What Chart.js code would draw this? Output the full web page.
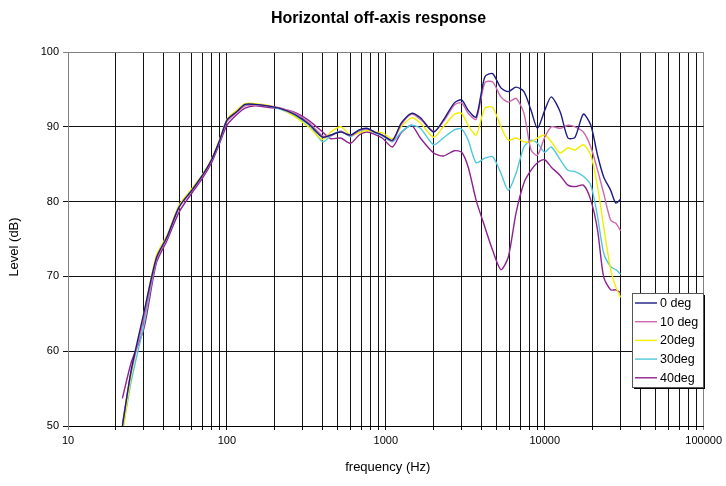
<!DOCTYPE html>
<html>
<head>
<meta charset="utf-8">
<script src="https://cdn.jsdelivr.net/npm/chart.js@4"></script>
<style>
  html, body { margin: 0; padding: 0; background: #fff; }
  #wrap { width: 726px; height: 486px; }
</style>
</head>
<body>
<div id="wrap"><canvas id="myChart" width="726" height="486"></canvas></div>
<script>
// frequencies (Hz) shared by all series
const freq = [22, 25, 30, 36, 42, 50, 60, 70, 80, 90, 100, 115, 130, 150, 180, 220, 270, 330, 400,
  450, 520, 600, 680, 760, 850, 950, 1100, 1250, 1450, 1650, 2000, 2300, 2700, 3000, 3300, 3700,
  4200, 4700, 5300, 5900, 6600, 7400, 8200, 9000, 10000, 11000, 12500, 14000, 15500, 17500,
  19500, 21500, 23500, 26000, 28000, 30000];

const deg0 = [50.0, 57.5, 65.1, 72.5, 75.3, 79.3, 81.5, 83.5, 85.6, 88.2, 90.9, 92.0, 93.0, 93.0, 92.8, 92.4, 91.6, 90.3, 88.6,
  88.9, 89.3, 88.9, 89.6, 89.8, 89.3, 88.9, 88.2, 90.5, 91.8, 91.2, 89.3, 90.9, 93.2, 93.6, 92.2, 91.3,
  96.7, 97.1, 95.2, 94.7, 95.3, 94.7, 92.2, 89.8, 92.2, 94.0, 92.0, 88.5, 88.6, 91.7,
  90.2, 86.2, 83.3, 81.5, 79.8, 80.3];
const deg10 = [50.3, 57.3, 64.3, 72.2, 75.2, 79.2, 81.4, 83.4, 85.5, 88.1, 90.7, 91.9, 92.8, 92.9, 92.8, 92.5, 91.8, 90.5, 88.8,
  88.8, 89.4, 88.8, 89.5, 89.7, 89.3, 88.9, 88.1, 90.3, 91.7, 91.0, 89.4, 90.7, 92.9, 93.2, 91.8, 91.0,
  95.9, 96.0, 94.0, 93.3, 93.8, 91.8, 86.9, 86.2, 88.6, 90.0, 89.8, 90.2, 90.0, 89.3,
  87.3, 84.2, 81.1, 77.5, 77.1, 76.1];
const deg20 = [48.8, 56.8, 65.0, 72.8, 75.5, 79.5, 81.7, 83.6, 85.7, 88.3, 91.0, 92.2, 93.1, 93.1, 92.9, 92.4, 91.3, 89.9, 88.3,
  89.3, 90.0, 88.9, 89.2, 89.5, 89.3, 89.2, 88.4, 90.0, 91.2, 90.5, 88.6, 90.0, 91.7, 91.8, 90.2, 88.9,
  92.5, 92.6, 90.0, 88.2, 88.5, 88.0, 88.0, 88.5, 88.9, 88.0, 86.5, 87.2, 86.9, 87.6,
  86.2, 82.0, 76.6, 70.9, 68.6, 67.2];
const deg30 = [49.2, 56.0, 63.5, 72.3, 75.2, 79.3, 81.5, 83.5, 85.6, 88.1, 90.8, 92.0, 92.9, 93.0, 92.8, 92.3, 91.4, 90.2, 88.0,
  88.8, 89.4, 88.7, 89.4, 89.6, 89.2, 88.8, 88.0, 89.3, 90.2, 89.8, 87.6, 88.5, 89.6, 89.7, 88.2, 85.2,
  85.8, 86.0, 83.8, 81.5, 83.8, 87.3, 88.2, 87.8, 86.6, 87.3, 85.6, 84.2, 84.0, 83.4,
  82.2, 78.0, 73.1, 71.3, 70.9, 70.3];
const deg40 = [53.7, 58.5, 63.0, 71.8, 74.8, 78.6, 81.1, 83.1, 85.2, 87.8, 90.2, 91.6, 92.5, 92.8, 92.6, 92.4, 91.9, 90.8, 89.3,
  88.4, 88.5, 87.8, 88.9, 89.3, 89.0, 88.5, 87.3, 89.2, 90.2, 88.5, 86.5, 86.1, 86.8, 86.6, 84.6, 80.2,
  76.6, 73.5, 70.9, 72.6, 78.5, 82.5, 84.2, 85.2, 85.6, 84.6, 83.5, 82.2, 82.0, 82.2,
  80.2, 76.2, 69.9, 68.2, 68.2, 67.8];

const seriesNames = ['0 deg', '10 deg', '20deg', '30deg', '40deg'];
const seriesColors = ['#1c1c84', '#cc6ab0', '#f2ee00', '#50c8dc', '#8e2290'];
const seriesValues = [deg0, deg10, deg20, deg30, deg40];

const xTicks = [];
for (let d = 10; d < 100000; d *= 10) {
  for (let m = 1; m < 10; m++) xTicks.push(m * d);
}
xTicks.push(100000);
const decadeLabels = [10, 100, 1000, 10000, 100000];
const yTicks = [50, 60, 70, 80, 90, 100];

const FONT = '"Liberation Sans", Arial, sans-serif';

const datasets = seriesValues.map((vals, i) => ({
  label: seriesNames[i],
  data: freq.map((f, j) => ({ x: f, y: vals[j] })),
  borderColor: seriesColors[i],
  backgroundColor: seriesColors[i],
  borderWidth: 1.4,
  pointRadius: 0,
  tension: 0.25,
  fill: false
}));

const extras = {
  id: 'extras',
  afterDraw(chart) {
    const c = chart.ctx;
    const a = chart.chartArea;
    c.save();
    c.fillStyle = '#000';
    c.textBaseline = 'middle';
    c.textAlign = 'left';
    c.font = 'bold 16px ' + FONT;
    c.fillText('Horizontal off-axis response', 271, 19);
    c.textAlign = 'center';
    c.font = '13px ' + FONT;
    c.fillText('frequency (Hz)', (a.left + a.right) / 2 + 2, 467);
    c.translate(14, 247);
    c.rotate(-Math.PI / 2);
    c.fillText('Level (dB)', 0, 0);
    c.restore();

    // legend box
    const bx = 632, by = 293, bw = 71, bh = 94;
    c.save();
    c.fillStyle = '#000';
    c.fillRect(bx + 2, by + 2, bw, bh);
    c.fillStyle = '#fff';
    c.fillRect(bx, by, bw, bh);
    c.strokeStyle = '#555';
    c.lineWidth = 1;
    c.strokeRect(bx + 0.5, by + 0.5, bw, bh);
    c.font = '12.5px ' + FONT;
    c.textAlign = 'left';
    c.textBaseline = 'middle';
    seriesNames.forEach((name, i) => {
      const y = 303 + i * 18.7;
      c.strokeStyle = seriesColors[i];
      c.lineWidth = 1.4;
      c.beginPath();
      c.moveTo(635, y);
      c.lineTo(657, y);
      c.stroke();
      c.fillStyle = '#000';
      c.fillText(name, 660, y + 0.5);
    });
    c.restore();
  }
};

const ctx = document.getElementById('myChart').getContext('2d');
new Chart(ctx, {
  type: 'line',
  data: { datasets: datasets },
  options: {
    responsive: false,
    animation: false,
    layout: { padding: { left: 0, right: 21, top: 52, bottom: 0 } },
    plugins: {
      legend: { display: false },
      tooltip: { enabled: false }
    },
    scales: {
      x: {
        type: 'logarithmic',
        min: 10,
        max: 100000,
        afterBuildTicks: (s) => { s.ticks = xTicks.map(v => ({ value: v })); },
        afterFit: (s) => { s.height = 60; },
        ticks: {
          autoSkip: false,
          maxRotation: 0,
          padding: 4,
          color: '#000',
          font: { family: FONT, size: 11 },
          callback: (v) => decadeLabels.includes(v) ? String(v) : ''
        },
        grid: {
          color: (c) => (c.tick && (c.tick.value === 10 || c.tick.value === 100000)) ? '#808080' : '#111',
          lineWidth: 1,
          tickLength: 4
        },
        border: { color: '#000' }
      },
      y: {
        min: 50,
        max: 100,
        afterBuildTicks: (s) => { s.ticks = yTicks.map(v => ({ value: v })); },
        afterFit: (s) => { s.width = 68; },
        ticks: {
          padding: 4,
          color: '#000',
          font: { family: FONT, size: 11 }
        },
        grid: {
          color: (c) => (c.tick && c.tick.value === 100) ? '#808080' : '#111',
          lineWidth: 1,
          tickLength: 5
        },
        border: { color: '#808080' }
      }
    }
  },
  plugins: [extras]
});
</script>
</body>
</html>
